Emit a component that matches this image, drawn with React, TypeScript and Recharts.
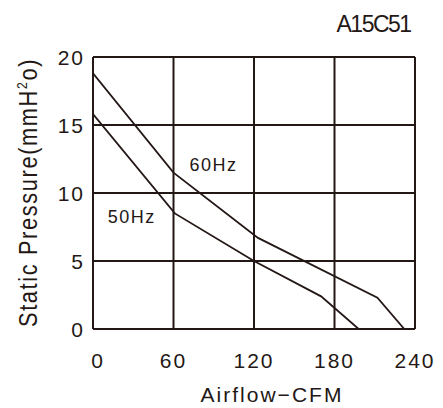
import React from "react";
import { CartesianGrid, Line, LineChart, ReferenceDot, XAxis, YAxis } from "recharts";

const INK = "#231815";
const FONT = "'Liberation Sans', Arial, Helvetica, sans-serif";

const xTicks = [0, 60, 120, 180, 240];
const yTicks = [0, 5, 10, 15, 20];

// 60Hz curve
const airflow60 = [0, 60, 123, 212, 232];
const pressure60 = [18.8, 11.5, 6.7, 2.3, 0];

// 50Hz curve
const airflow50 = [0, 61, 120, 170, 198];
const pressure50 = [15.8, 8.5, 5.0, 2.4, 0];

const curve60 = airflow60.map((x, i) => ({ x, y: pressure60[i] }));
const curve50 = airflow50.map((x, i) => ({ x, y: pressure50[i] }));

const XTick = (props: any) => {
  const { x, y, payload } = props;
  const shift = payload.value === 0 ? 5 : 0;
  return (
    <text
      x={x + shift}
      y={y + 39}
      textAnchor="middle"
      fontSize={21}
      letterSpacing={2}
      fill={INK}
      fontFamily={FONT}
    >
      {payload.value}
    </text>
  );
};

const YTick = (props: any) => {
  const { x, y, payload } = props;
  return (
    <text
      x={x - 8}
      y={y + 7.5}
      textAnchor="end"
      fontSize={21}
      letterSpacing={2}
      fill={INK}
      fontFamily={FONT}
    >
      {payload.value}
    </text>
  );
};

const curveLabel = (text: string) => (props: any) => {
  const { viewBox } = props;
  return (
    <text
      x={viewBox.x}
      y={viewBox.y}
      fontSize={18}
      letterSpacing={1.5}
      fill={INK}
      fontFamily={FONT}
    >
      {text}
    </text>
  );
};

export default function App() {
  return (
    <div style={{ position: "absolute", left: 0, top: 0, width: 443, height: 408, background: "#fff" }}>
      <LineChart
        width={443}
        height={408}
        margin={{ top: 57, right: 28, bottom: 0, left: 0 }}
      >
        <CartesianGrid stroke={INK} strokeWidth={2} />
        <XAxis
          type="number"
          dataKey="x"
          domain={[0, 240]}
          ticks={xTicks}
          height={79}
          axisLine={false}
          tickLine={false}
          tickSize={0}
          tickMargin={0}
          tick={<XTick />}
          allowDataOverflow
        />
        <YAxis
          type="number"
          dataKey="y"
          domain={[0, 20]}
          ticks={yTicks}
          width={93}
          axisLine={false}
          tickLine={false}
          tickSize={0}
          tickMargin={0}
          tick={<YTick />}
          allowDataOverflow
        />
        <Line
          data={curve60}
          dataKey="y"
          type="linear"
          stroke={INK}
          strokeWidth={1.8}
          dot={false}
          isAnimationActive={false}
        />
        <Line
          data={curve50}
          dataKey="y"
          type="linear"
          stroke={INK}
          strokeWidth={1.8}
          dot={false}
          isAnimationActive={false}
        />
        <ReferenceDot x={72} y={11.6} r={0} fill="none" stroke="none" label={curveLabel("60Hz")} />
        <ReferenceDot x={11} y={7.8} r={0} fill="none" stroke="none" label={curveLabel("50Hz")} />
        <text
          x={336.5}
          y={31.5}
          fontSize={23}
          letterSpacing={-1.5}
          fill={INK}
          fontFamily={FONT}
        >
          A15C51
        </text>
        <text
          x={0}
          y={0}
          transform="translate(37, 192.5) rotate(-90) scale(0.87, 1)"
          textAnchor="middle"
          fontSize={25}
          letterSpacing={1.9}
          fill={INK}
          fontFamily={FONT}
        >
          Static Pressure(mmH
          <tspan fontSize={14} dy={-10}>2</tspan>
          <tspan dy={10}>o)</tspan>
        </text>
        <text
          x={272}
          y={402}
          textAnchor="middle"
          fontSize={21}
          letterSpacing={2}
          fill={INK}
          fontFamily={FONT}
        >
          Airflow−CFM
        </text>
      </LineChart>
    </div>
  );
}
